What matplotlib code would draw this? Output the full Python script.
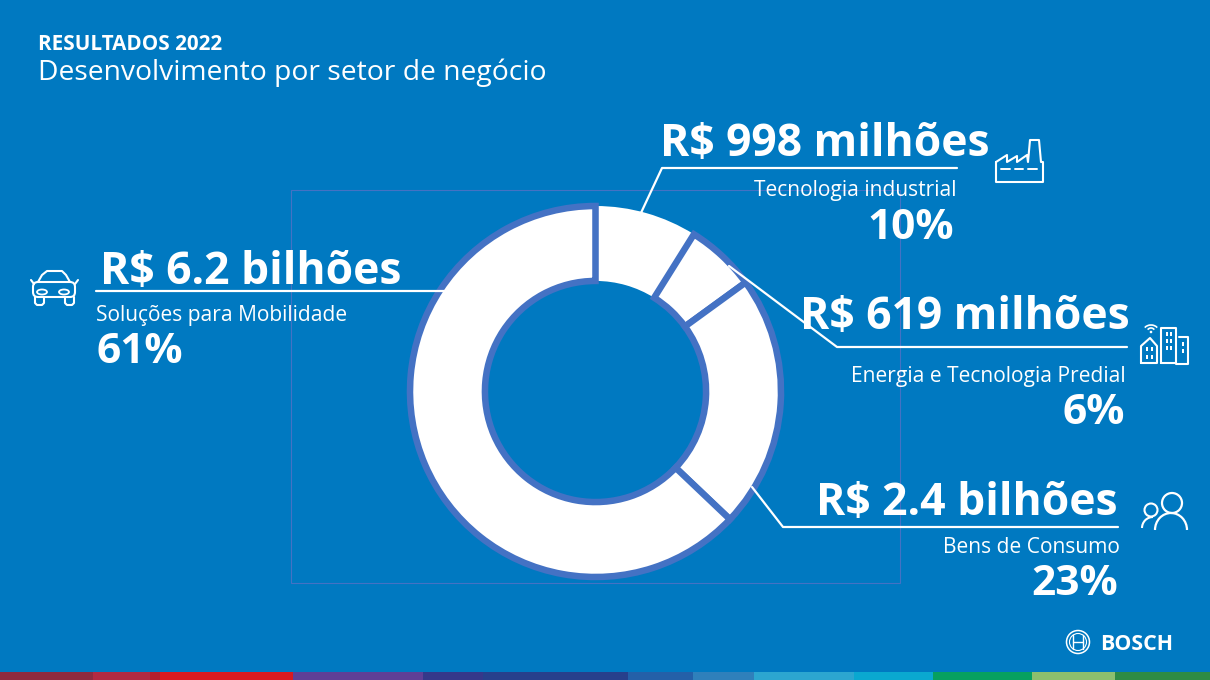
import matplotlib
matplotlib.use("Agg")
import matplotlib.pyplot as plt
from matplotlib.patches import Rectangle, Circle, Arc, Ellipse, FancyBboxPatch

BG = "#0079c1"
RIM = "#4472c4"
W, H = 1210, 680

# setores, sentido horario a partir do topo
sectors = ["Tecnologia industrial", "Energia e Tecnologia Predial", "Bens de Consumo", "Soluções para Mobilidade"]
amounts = ["R$ 998 milhões", "R$ 619 milhões", "R$ 2.4 bilhões", "R$ 6.2 bilhões"]
shares = ["10%", "6%", "23%", "61%"]
slice_sizes = [8.9, 6.1, 22.1, 62.9]

title_top = "RESULTADOS 2022"
title_sub = "Desenvolvimento por setor de negócio"

strip_edges = [0, 93, 150, 160, 293, 423, 483, 628, 693, 754, 854, 933, 1032, 1115, 1210]
strip_colors = ["#8f2a3f", "#b22a42", "#b51f2c", "#d91a1f", "#5f3f96", "#35388a", "#27408c",
                "#2460a8", "#2f80bb", "#2ca6d0", "#0aa8d0", "#07a060", "#8cbf6e", "#2e8b45"]

plt.rcParams["font.family"] = ["Open Sans", "DejaVu Sans"]
fig = plt.figure(figsize=(W / 100, H / 100), dpi=100, facecolor=BG)

# eixo em pixels para textos, linhas e icones
bg = fig.add_axes([0, 0, 1, 1])
bg.set_xlim(0, W)
bg.set_ylim(H, 0)
bg.axis("off")

bg.add_patch(Rectangle((291, 190), 609, 393, fill=False, ec=RIM, lw=0.8))

for i, c in enumerate(strip_colors):
    bg.add_patch(Rectangle((strip_edges[i], 672), strip_edges[i + 1] - strip_edges[i], 8, fc=c, ec="none"))

# rosca
cx, cy, r = 595.5, 391.5, 185.5
ax = fig.add_axes([(cx - r) / W, 1 - (cy + r) / H, 2 * r / W, 2 * r / H])
wedges, _ = ax.pie(slice_sizes, startangle=90, counterclock=False, radius=1,
                   colors=["white"] * 4,
                   wedgeprops=dict(width=0.404, edgecolor=RIM, linewidth=4.7))
wedges[0].set_edgecolor("none")
wedges[0].set_zorder(0)
ax.set_xlim(-1, 1)
ax.set_ylim(-1, 1)
for w in wedges:
    w.set_clip_on(False)

top = fig.add_axes([0, 0, 1, 1])
top.set_xlim(0, W)
top.set_ylim(H, 0)
top.axis("off")
top.patch.set_alpha(0)


def line(xs, ys, lw=1.6):
    top.plot(xs, ys, color="white", lw=lw, solid_capstyle="round", solid_joinstyle="round")


line([640, 662, 957], [215, 168, 168])
line([729, 837, 1127], [266, 347, 347])
line([752, 783, 1118], [487, 527, 527])
line([96, 445], [291, 291])

top.text(38, 49.5, title_top, color="white", fontsize=14.9, fontweight="bold", va="baseline")
top.text(38, 80, title_sub, color="white", fontsize=20.3, va="baseline")

big = 32
small = 15.1
pct = 30.5
top.text(990, 156, amounts[0], color="white", fontsize=big, fontweight="bold", ha="right", va="baseline")
top.text(957, 196, sectors[0], color="white", fontsize=small, ha="right", va="baseline")
top.text(954, 239, shares[0], color="white", fontsize=pct, fontweight="bold", ha="right", va="baseline")

top.text(1130, 329, amounts[1], color="white", fontsize=big, fontweight="bold", ha="right", va="baseline")
top.text(1126, 382, sectors[1], color="white", fontsize=small, ha="right", va="baseline")
top.text(1125, 424, shares[1], color="white", fontsize=pct, fontweight="bold", ha="right", va="baseline")

top.text(1118, 515, amounts[2], color="white", fontsize=big, fontweight="bold", ha="right", va="baseline")
top.text(1120, 553, sectors[2], color="white", fontsize=small, ha="right", va="baseline")
top.text(1118, 595, shares[2], color="white", fontsize=pct, fontweight="bold", ha="right", va="baseline")

top.text(100, 284, amounts[3], color="white", fontsize=big, fontweight="bold", va="baseline")
top.text(96, 321, sectors[3], color="white", fontsize=small, va="baseline")
top.text(96, 363, shares[3], color="white", fontsize=pct, fontweight="bold", va="baseline")

# icone fabrica
line([996, 1007, 1007, 1017, 1017, 1027, 1028, 1030, 1039, 1041, 1043, 1043, 996, 996],
     [162, 155, 162, 156, 162, 155, 162, 140, 140, 162, 162, 182, 182, 162], lw=1.5)
for x0, x1 in [(1001, 1010), (1015, 1023), (1028, 1037)]:
    line([x0, x1], [169, 169], lw=1.4)

# icone predios
line([1141, 1141, 1150, 1157, 1157, 1141], [363, 346, 338, 346, 363, 363], lw=1.5)
line([1161, 1161, 1176, 1176, 1161], [363, 328, 328, 363, 363], lw=1.5)
line([1179, 1188, 1188, 1176], [337, 337, 364, 364], lw=1.5)
for xx, yy in [(1147, 349), (1152, 349), (1147, 357), (1152, 357), (1167, 334), (1171, 334),
               (1167, 341), (1171, 341), (1167, 348), (1171, 348), (1183, 344), (1183, 351)]:
    top.add_patch(Rectangle((xx - 1, yy - 2), 2.4, 4, fc="white", ec="none"))
top.add_patch(Arc((1151, 332), 16, 14, theta1=215, theta2=325, ec="white", lw=1.2))
top.add_patch(Arc((1151, 332), 8, 8, theta1=215, theta2=325, ec="white", lw=1.2))
top.add_patch(Circle((1151, 332), 1.3, fc="white", ec="none"))

# icone pessoas
top.add_patch(Circle((1172, 503), 10, fill=False, ec="white", lw=1.6))
top.add_patch(Arc((1171, 530), 32, 34, theta1=180, theta2=360, ec="white", lw=1.6))
top.add_patch(Circle((1151, 510), 6.5, fill=False, ec="white", lw=1.5))
top.add_patch(Arc((1153, 528), 22, 22, theta1=180, theta2=270, ec="white", lw=1.5))

# icone carro
top.add_patch(FancyBboxPatch((33, 282), 42, 15, boxstyle="round,pad=0,rounding_size=5", fill=False, ec="white", lw=1.5))
line([38, 42, 47, 62, 66, 70], [282, 275, 271, 271, 275, 282], lw=1.5)
line([35, 35, 37, 42, 44, 44], [297, 303, 305, 305, 303, 298], lw=1.5)
line([65, 65, 67, 72, 74, 74], [298, 303, 305, 305, 303, 297], lw=1.5)
line([31, 34], [280, 284], lw=1.5)
line([78, 75], [280, 284], lw=1.5)
top.add_patch(Ellipse((42, 292), 10, 5, fill=False, ec="white", lw=1.3))
top.add_patch(Ellipse((64, 292), 10, 5, fill=False, ec="white", lw=1.3))

# logo
top.add_patch(Circle((1078, 642), 11.5, fill=False, ec="white", lw=1.1))
top.add_patch(Circle((1078, 642), 8.5, fill=False, ec="white", lw=0.8))
line([1073, 1073], [635, 649], lw=1)
line([1083, 1083], [635, 649], lw=1)
line([1073, 1083], [642, 642], lw=1)
top.text(1100, 650, "BOSCH", color="white", fontsize=15.4, fontweight="bold", va="baseline")

fig.savefig("out.png", dpi=100, facecolor=BG)
